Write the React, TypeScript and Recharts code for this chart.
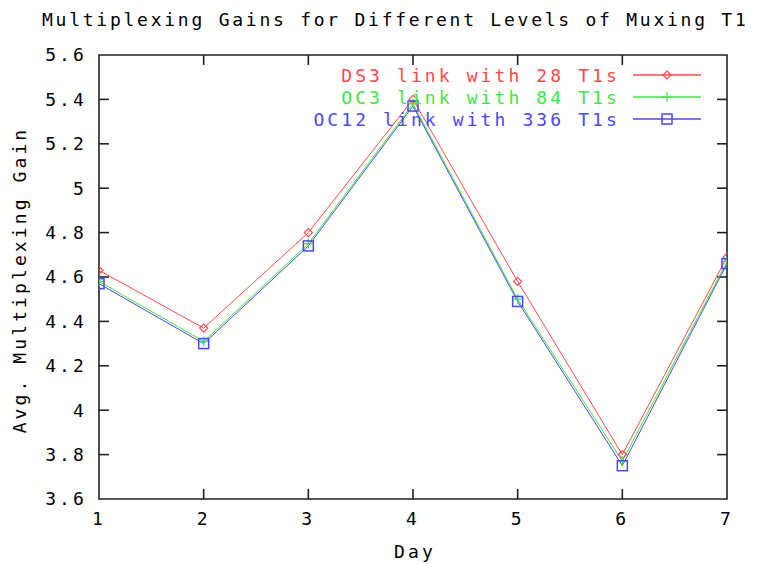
import { LineChart, Line, XAxis, YAxis, ReferenceArea, ReferenceLine } from 'recharts';

const days = [1, 2, 3, 4, 5, 6, 7];
const ds3 = [4.63, 4.37, 4.8, 5.4, 4.58, 3.8, 4.69];
const oc3 = [4.58, 4.31, 4.75, 5.38, 4.5, 3.77, 4.67];
const oc12 = [4.57, 4.3, 4.74, 5.37, 4.49, 3.75, 4.66];
const yTicks = [3.6, 3.8, 4, 4.2, 4.4, 4.6, 4.8, 5, 5.2, 5.4, 5.6];
const seriesNames = ['DS3 link with 28 T1s', 'OC3 link with 84 T1s', 'OC12 link with 336 T1s'];
const seriesKeys = ['ds3', 'oc3', 'oc12'];
const COLORS = ['#ff4848', '#3ee83e', '#4848ff'];

const X_MIN = 1;
const X_MAX = 7;
const Y_MIN = 3.6;
const Y_MAX = 5.6;
// inward tick length in data units (about 10px on each axis)
const X_TICK_LEN = 0.045;
const Y_TICK_LEN = 0.095;

const data = days.map((d, i) => ({ day: d, ds3: ds3[i], oc3: oc3[i], oc12: oc12[i] }));

const FONT = "'DejaVu Sans Mono', monospace";
const FS = 18;
const LS = 3.1;
const tickStyle = { fill: '#000', fontSize: FS, fontFamily: FONT, letterSpacing: LS };

function Marker({ kind, cx, cy, color }: { kind: number; cx: number; cy: number; color: string }) {
  if (kind === 0) {
    return (
      <path d={`M${cx},${cy - 4}L${cx + 4},${cy}L${cx},${cy + 4}L${cx - 4},${cy}Z`} fill="none" stroke={color} strokeWidth={1.2} />
    );
  }
  if (kind === 1) {
    return <path d={`M${cx - 5},${cy}H${cx + 5}M${cx},${cy - 5}V${cy + 5}`} stroke={color} strokeWidth={1.2} />;
  }
  return <rect x={cx - 5} y={cy - 5} width={10} height={10} fill="none" stroke={color} strokeWidth={1.5} />;
}

function makeDot(kind: number) {
  return (props: any) => (
    <Marker key={`dot-${kind}-${props.index}`} kind={kind} cx={props.cx} cy={props.cy} color={COLORS[kind]} />
  );
}

const AXIS = '#222';

export default function App() {
  return (
    <div style={{ position: 'absolute', left: 0, top: 0, width: 767, height: 564, overflow: 'hidden', background: '#fff' }}>
      <div
        style={{
          position: 'absolute', left: 42, top: 9, fontFamily: FONT, fontSize: FS,
          letterSpacing: LS - 0.35, whiteSpace: 'nowrap', color: '#000',
        }}
      >
        Multiplexing Gains for Different Levels of Muxing T1
      </div>
      <LineChart width={767} height={564} data={data} margin={{ top: 55, right: 40, bottom: 0, left: 0 }}>
        <XAxis
          dataKey="day"
          type="number"
          domain={[X_MIN, X_MAX]}
          ticks={days}
          allowDataOverflow
          height={65}
          axisLine={false}
          tickLine={false}
          tickSize={0}
          tickMargin={13}
          tick={tickStyle}
          label={{
            content: () => (
              <text x={415} y={558} textAnchor="middle" fontFamily={FONT} fontSize={FS} letterSpacing={LS} fill="#000">
                Day
              </text>
            ),
          }}
        />
        <YAxis
          type="number"
          domain={[Y_MIN, Y_MAX]}
          ticks={yTicks}
          allowDataOverflow
          width={99}
          axisLine={false}
          tickLine={false}
          tickSize={0}
          tickMargin={12}
          tick={tickStyle}
          label={{
            content: () => (
              <text
                x={21}
                y={280}
                transform="rotate(-90 21 280)"
                textAnchor="middle"
                dominantBaseline="middle"
                fontFamily={FONT}
                fontSize={FS}
                letterSpacing={LS}
                fill="#000"
              >
                Avg. Multiplexing Gain
              </text>
            ),
          }}
        />
        <ReferenceArea
          x1={X_MIN}
          x2={X_MAX}
          y1={Y_MIN}
          y2={Y_MAX}
          fill="none"
          stroke={AXIS}
          strokeWidth={1.6}
          fillOpacity={0}
        />
        {days.slice(1, -1).map((d) => (
          <ReferenceLine
            key={`bt-${d}`}
            segment={[{ x: d, y: Y_MIN }, { x: d, y: Y_MIN + X_TICK_LEN }]}
            stroke={AXIS}
            strokeWidth={1.6}
          />
        ))}
        {days.slice(1, -1).map((d) => (
          <ReferenceLine
            key={`tt-${d}`}
            segment={[{ x: d, y: Y_MAX }, { x: d, y: Y_MAX - X_TICK_LEN }]}
            stroke={AXIS}
            strokeWidth={1.6}
          />
        ))}
        {yTicks.slice(1, -1).map((v) => (
          <ReferenceLine
            key={`lt-${v}`}
            segment={[{ x: X_MIN, y: v }, { x: X_MIN + Y_TICK_LEN, y: v }]}
            stroke={AXIS}
            strokeWidth={1.6}
          />
        ))}
        {yTicks.slice(1, -1).map((v) => (
          <ReferenceLine
            key={`rt-${v}`}
            segment={[{ x: X_MAX, y: v }, { x: X_MAX - Y_TICK_LEN, y: v }]}
            stroke={AXIS}
            strokeWidth={1.6}
          />
        ))}
        {seriesKeys.map((k, i) => (
          <Line
            key={k}
            dataKey={k}
            name={seriesNames[i]}
            stroke={COLORS[i]}
            strokeWidth={1}
            dot={makeDot(i)}
            activeDot={false}
            isAnimationActive={false}
          />
        ))}
      </LineChart>
      <div style={{ position: 'absolute', left: 290, top: 64, width: 430 }}>
        {seriesNames.map((n, i) => (
          <div key={n} style={{ display: 'flex', alignItems: 'center', height: 22, justifyContent: 'flex-end' }}>
            <span
              style={{
                fontFamily: FONT, fontSize: FS, letterSpacing: LS, color: COLORS[i],
                whiteSpace: 'nowrap', marginRight: 12,
              }}
            >
              {n}
            </span>
            <svg width={70} height={22} style={{ marginRight: 18 }}>
              <line x1={1} y1={11} x2={69} y2={11} stroke={COLORS[i]} strokeWidth={1.5} />
              <Marker kind={i} cx={35} cy={11} color={COLORS[i]} />
            </svg>
          </div>
        ))}
      </div>
    </div>
  );
}
